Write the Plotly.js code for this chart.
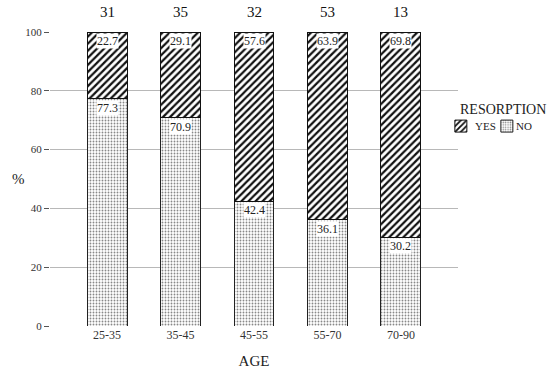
<!DOCTYPE html>
<html><head><meta charset="utf-8">
<script src="https://cdn.plot.ly/plotly-3.0.1.min.js"></script>
<style>html,body{margin:0;padding:0;background:#fff}</style>
</head><body>
<div id="chart" style="width:550px;height:372px"></div>
<script>
const ageGroups = ["25-35", "35-45", "45-55", "55-70", "70-90"];
const yesPct = [22.7, 29.1, 57.6, 63.9, 69.8];
const noPct = [77.3, 70.9, 42.4, 36.1, 30.2];
const counts = [31, 35, 32, 53, 13];
const seriesNames = ["YES", "NO"];

const serif = "Liberation Serif";

// Legend swatches come from the traces; their labels are drawn as annotations
const traceNo = {
  type: "bar", name: " ", x: ageGroups, y: noPct, width: 0.544, showlegend: true,
  marker: {color: "white", line: {color: "#222", width: 1},
    pattern: {shape: ".", fgcolor: "#888", bgcolor: "white", size: 3, solidity: 0.3}},
  legendrank: 2, hoverinfo: "skip"
};
const traceYes = {
  type: "bar", name: " ", x: ageGroups, y: yesPct, width: 0.544, showlegend: true,
  marker: {color: "white", line: {color: "#111", width: 1},
    pattern: {shape: "/", fgcolor: "#111", bgcolor: "white", size: 5, solidity: 0.45}},
  legendrank: 1, hoverinfo: "skip"
};

const annotations = [];
ageGroups.forEach((g, i) => {
  annotations.push({x: g, y: 100, yref: "y", text: yesPct[i].toFixed(1), showarrow: false,
    yanchor: "top", yshift: -1, bgcolor: "white", borderpad: 0,
    font: {family: serif, size: 12, color: "#222"}});
  annotations.push({x: g, y: noPct[i], yref: "y", text: noPct[i].toFixed(1), showarrow: false,
    yanchor: "top", yshift: -1, bgcolor: "white", borderpad: 0,
    font: {family: serif, size: 12, color: "#222"}});
  annotations.push({x: g, y: 1.068, yref: "paper", text: String(counts[i]), showarrow: false,
    yanchor: "middle", font: {family: serif, size: 15, color: "#111"}});
});
annotations.push({x: -0.098, xref: "paper", y: 0.5, yref: "paper", text: "%", showarrow: false,
  font: {family: serif, size: 15, color: "#222"}});
annotations.push({x: 1.0, xref: "paper", xanchor: "left", y: 0.735, yref: "paper", yanchor: "middle",
  text: "RESORPTION", showarrow: false, font: {family: serif, size: 14, color: "#222"}});
annotations.push({x: 1.037, xref: "paper", xanchor: "left", y: 0.68, yref: "paper", yanchor: "middle",
  text: seriesNames[0], showarrow: false, font: {family: serif, size: 11, color: "#222"}});
annotations.push({x: 1.138, xref: "paper", xanchor: "left", y: 0.68, yref: "paper", yanchor: "middle",
  text: seriesNames[1], showarrow: false, font: {family: serif, size: 11, color: "#222"}});

const layout = {
  width: 550, height: 372,
  margin: {l: 50, r: 92, t: 32, b: 46, autoexpand: false},
  paper_bgcolor: "white", plot_bgcolor: "white",
  barmode: "stack", bargap: 0.456,
  font: {family: serif, color: "#333"},
  xaxis: {type: "category", range: [-0.776, 4.776], showgrid: false, zeroline: false, showline: false,
    ticks: "", tickfont: {family: serif, size: 12, color: "#333"},
    title: {text: "AGE", font: {family: serif, size: 15, color: "#222"}, standoff: 14}},
  yaxis: {range: [0, 100], tickvals: [0, 20, 40, 60, 80, 100], showgrid: true, gridcolor: "#b8b8b8",
    gridwidth: 1, zeroline: false, showline: false, ticks: "outside", ticklen: 5, tickcolor: "#555",
    tickfont: {family: serif, size: 11, color: "#333"}},
  showlegend: true,
  legend: {orientation: "h", x: 0.958, xanchor: "left", y: 0.68, yanchor: "middle", traceorder: "normal",
    bgcolor: "rgba(0,0,0,0)", font: {family: serif, size: 12, color: "rgba(0,0,0,0)"},
    itemwidth: 30, entrywidth: 1, entrywidthmode: "pixels", tracegroupgap: 0},
  annotations: annotations
};

Plotly.newPlot("chart", [traceNo, traceYes], layout, {staticPlot: true, displayModeBar: false});
</script>
</body></html>
